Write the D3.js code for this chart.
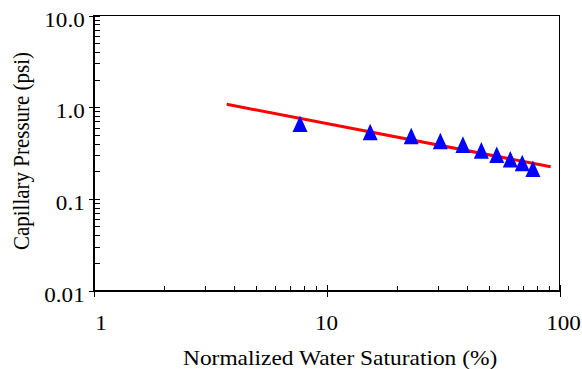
<!DOCTYPE html>
<html><head><meta charset="utf-8">
<script src="https://cdn.jsdelivr.net/npm/d3@7"></script>
<style>
body{margin:0;background:#fff}
</style>
</head><body>
<svg id="chart" width="582" height="369"></svg>
<script>
// ---- data ----
const saturation = [7.7, 15.4, 23.1, 30.8, 38.5, 46.2, 53.8, 61.5, 69.2, 76.9];
const pressure   = [0.66, 0.536, 0.485, 0.428, 0.39, 0.338, 0.303, 0.27, 0.246, 0.213];
const fitSaturation = [3.73, 91.7];
const fitPressure   = [1.075, 0.224];
const xTickValues = [1, 10, 100];
const xTickLabels = ["1", "10", "100"];
const yTickValues = [0.01, 0.1, 1, 10];
const yTickLabels = ["0.01", "0.1", "1.0", "10.0"];
const xTitle = "Normalized Water Saturation (%)";
const yTitle = "Capillary Pressure (psi)";

// ---- layout ----
const svg = d3.select("#chart");
const L = 93.5, R = 559.5, T = 15.5, B = 290.5;
const FS = 21, SX = 1.1;
const FONT = "'Liberation Serif'";

const x = d3.scaleLog().domain([1, 100]).range([L, R]);
const y = d3.scaleLog().domain([0.01, 10]).range([B, T]);

const xMinor = x.ticks().filter(v => !xTickValues.includes(v));
const yMinor = y.ticks().filter(v => !yTickValues.some(t => Math.abs(t - v) < 1e-9));

function clean(g){ g.attr("font-family",null); g.select(".domain").remove(); g.selectAll("line").attr("stroke","#000").attr("stroke-width",1).attr("shape-rendering","crispEdges"); }

// frame (top/right thin)
svg.append("rect").attr("x",L).attr("y",T).attr("width",R-L).attr("height",B-T)
  .attr("fill","none").attr("stroke","#000").attr("stroke-width",1).attr("shape-rendering","crispEdges");
// heavier left and bottom axis lines
svg.append("line").attr("x1",L+0.5).attr("x2",L+0.5).attr("y1",T).attr("y2",B+1.5)
  .attr("stroke","#000").attr("stroke-width",2).attr("shape-rendering","crispEdges");
svg.append("line").attr("x1",L-0.5).attr("x2",R).attr("y1",B+0.5).attr("y2",B+0.5)
  .attr("stroke","#000").attr("stroke-width",2).attr("shape-rendering","crispEdges");

// Y axis: major outward with labels
const yLab = new Map(yTickValues.map((v,i)=>[v, yTickLabels[i]]));
svg.append("g").attr("transform",`translate(${L},0)`)
  .call(d3.axisLeft(y).tickValues(yTickValues).tickSize(5).tickFormat(v=>yLab.get(v)))
  .call(clean)
  .call(g=>g.selectAll("text")
     .attr("x",-8).attr("dy",null).attr("y",10.5)
     .attr("transform",`scale(${SX},1)`)
     .attr("fill","#000")
     .style("font-family",FONT).style("font-size",FS+"px"));
// Y axis inward ticks
svg.append("g").attr("transform",`translate(${L},0)`)
  .call(d3.axisRight(y).tickValues(yTickValues).tickSize(6).tickFormat(""))
  .call(clean);
svg.append("g").attr("transform",`translate(${L},0)`)
  .call(d3.axisRight(y).tickValues(yMinor).tickSize(6).tickFormat(""))
  .call(clean);

// X axis: major downward with labels
const xLab = new Map(xTickValues.map((v,i)=>[v, xTickLabels[i]]));
const xLabelShift = {"1":7, "10":-0.5, "100":3.5};
svg.append("g").attr("transform",`translate(0,${B})`)
  .call(d3.axisBottom(x).tickValues(xTickValues).tickSize(6).tickFormat(v=>xLab.get(v)))
  .call(clean)
  .call(g=>g.selectAll("text")
     .attr("y",40).attr("dy",null)
     .attr("transform",function(d){return `translate(${xLabelShift[xLab.get(d)]||0},0) scale(${SX},1)`;})
     .attr("fill","#000")
     .style("font-family",FONT).style("font-size",FS+"px"));
svg.append("g").attr("transform",`translate(0,${B})`)
  .call(d3.axisTop(x).tickValues(xTickValues).tickSize(6).tickFormat(""))
  .call(clean);
svg.append("g").attr("transform",`translate(0,${B})`)
  .call(d3.axisTop(x).tickValues(xMinor).tickSize(5).tickFormat(""))
  .call(clean);

// fitted line
const fit = fitSaturation.map((s,i)=>[s, fitPressure[i]]);
svg.append("path").datum(fit)
  .attr("d", d3.line().x(d=>x(d[0])).y(d=>y(d[1])))
  .attr("fill","none").attr("stroke","#ff0000").attr("stroke-width",3);

// triangles
const pts = saturation.map((s,i)=>[s, pressure[i]]);
svg.append("g").selectAll("path").data(pts).join("path")
  .attr("transform", d=>`translate(${x(d[0])},${y(d[1])})`)
  .attr("d","M0,-8.3L7.5,8.3L-7.5,8.3Z")
  .attr("fill","#0000ff");

// titles
svg.append("text")
  .attr("transform",`translate(183,364.5) scale(1.115,1)`)
  .style("font-family",FONT).style("font-size",FS+"px").text(xTitle);
svg.append("text")
  .attr("transform",`translate(29,151) scale(${SX},1) rotate(-90)`)
  .attr("text-anchor","middle")
  .style("font-family",FONT).style("font-size",FS+"px").text(yTitle);
</script>
</body></html>
